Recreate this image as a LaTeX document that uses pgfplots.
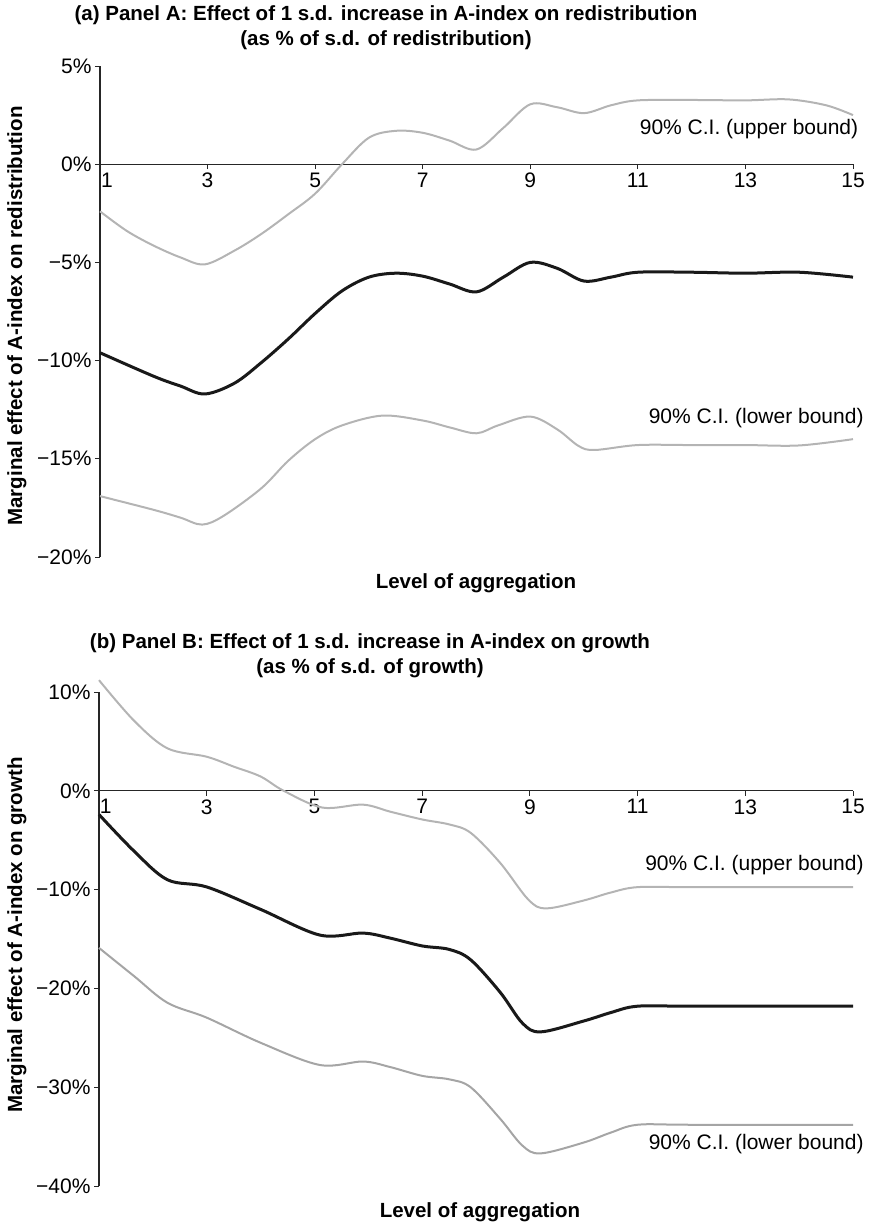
\documentclass[border=0pt]{standalone}
\usepackage{fontspec}
\setmainfont{Liberation Sans}
\usepackage{pgfplots}
\pgfplotsset{compat=1.18}
\definecolor{cigray}{RGB}{180,180,180}
\definecolor{cigrayb}{RGB}{165,165,165}
\definecolor{mainline}{RGB}{25,25,25}
\pgfplotsset{
 panel/.style={
  scale only axis, anchor=north west,
  xmin=1, xmax=15,
  axis x line*=middle, axis y line*=left,
  hide obscured x ticks=false,
  axis line style={line width=1.2pt, black!85},
  xtick={1,3,...,15}, xticklabels={\makebox[0pt][l]{\hspace{1pt}1},3,5,7,9,11,13,15},
  tick style={line width=1pt, black!85},
  major tick length=5pt,
  tick align=outside,
  tick label style={font=\fontsize{21}{21}\selectfont},
  clip=false,
 }
}
\begin{document}
\begin{tikzpicture}[x=1pt,y=1pt]
\useasboundingbox (0,0) rectangle (869,-1227);
% ---------------- Panel A ----------------
\begin{axis}[panel, at={(100pt,-66pt)}, width=753pt, height=491pt,
  ymin=-20, ymax=5, ytick={-20,-15,...,5},
  yticklabels={−20\%,−15\%,−10\%,−5\%,0\%,5\%}]
\addplot[cigray, line width=2pt, smooth, tension=0.55] coordinates {
(1,-2.4) (1.5,-3.4) (2,-4.15) (2.5,-4.75) (2.95,-5.1) (3.5,-4.4) (4,-3.55) (4.5,-2.55) (5,-1.5) (5.5,0) (6,1.35) (6.5,1.7) (7,1.6) (7.5,1.2) (8,0.75) (8.5,1.85) (9,3.05) (9.5,2.9) (10,2.6) (10.5,3.0) (11,3.25) (12,3.27) (13,3.25) (13.8,3.3) (14.5,3.0) (15,2.5)};
\addplot[mainline, line width=3pt, smooth, tension=0.55] coordinates {
(1,-9.6) (2,-10.8) (2.5,-11.3) (2.95,-11.7) (3.5,-11.15) (4,-10.1) (4.5,-8.9) (5,-7.6) (5.5,-6.45) (6,-5.75) (6.5,-5.55) (7,-5.7) (7.5,-6.1) (8,-6.5) (8.5,-5.75) (9,-5.0) (9.5,-5.3) (10,-5.95) (10.5,-5.75) (11,-5.5) (12,-5.5) (13,-5.55) (14,-5.5) (15,-5.75)};
\addplot[cigray, line width=2pt, smooth, tension=0.55] coordinates {
(1,-16.9) (2,-17.6) (2.5,-18.0) (2.9,-18.35) (3.3,-17.9) (4,-16.5) (4.5,-15.1) (5,-14.0) (5.5,-13.3) (6.25,-12.8) (7,-13.05) (7.5,-13.4) (8,-13.7) (8.4,-13.3) (9,-12.85) (9.5,-13.5) (9.9,-14.35) (10.2,-14.55) (11,-14.3) (12,-14.3) (13,-14.3) (14,-14.32) (15,-14.0)};
\node[anchor=east, inner sep=0pt, font=\fontsize{21}{21}\selectfont] at (axis cs:15.1,1.8) {90\% C.I. (upper bound)};
\node[anchor=east, inner sep=0pt, font=\fontsize{21}{21}\selectfont] at (axis cs:15.2,-12.95) {90\% C.I. (lower bound)};
\end{axis}
% ---------------- Panel B ----------------
\begin{axis}[panel, at={(99pt,-692pt)}, width=754pt, height=494pt,
  ymin=-40, ymax=10, ytick={-40,-30,...,10},
  yticklabels={−40\%,−30\%,−20\%,−10\%,0\%,10\%}]
\addplot[cigray, line width=2pt, smooth, tension=0.55] coordinates {
(1,11.2) (1.65,7.1) (2.27,4.3) (3,3.45) (3.5,2.45) (4,1.45) (4.43,0) (5.15,-1.7) (5.9,-1.4) (6.4,-2.1) (7,-2.9) (7.5,-3.4) (7.9,-4.25) (8.45,-7.3) (8.97,-11.0) (9.3,-11.9) (10,-11.1) (10.5,-10.3) (11,-9.75) (12,-9.75) (15,-9.75)};
\addplot[mainline, line width=3pt, smooth, tension=0.55] coordinates {
(1,-2.4) (1.65,-6.1) (2.27,-9.0) (3,-9.73) (4,-12.0) (5.1,-14.6) (5.9,-14.4) (6.4,-14.9) (7,-15.7) (7.5,-16.05) (7.9,-17.1) (8.45,-20.4) (8.86,-23.5) (9.2,-24.4) (10,-23.3) (10.5,-22.45) (11,-21.8) (12,-21.8) (15,-21.8)};
\addplot[cigrayb, line width=2pt, smooth, tension=0.55] coordinates {
(1,-15.9) (1.65,-18.75) (2.27,-21.45) (3,-22.96) (4,-25.5) (5.1,-27.75) (5.9,-27.4) (6.4,-27.95) (7,-28.85) (7.5,-29.2) (7.9,-30.0) (8.45,-33.2) (8.86,-35.9) (9.2,-36.7) (10,-35.6) (10.5,-34.6) (11,-33.8) (12,-33.8) (15,-33.8)};
\node[anchor=east, inner sep=0pt, font=\fontsize{21}{21}\selectfont] at (axis cs:15.2,-7.5) {90\% C.I. (upper bound)};
\node[anchor=east, inner sep=0pt, font=\fontsize{21}{21}\selectfont] at (axis cs:15.2,-35.8) {90\% C.I. (lower bound)};
\end{axis}
% ---------------- Texts ----------------
\begin{scope}[every node/.style={font=\bfseries\fontsize{20.5}{20.5}\selectfont}]
\node[anchor=base] at (386,-20) {(a) Panel A: Effect of 1 s.d. increase in A-index on redistribution};
\node[anchor=base] at (386,-45) {(as \% of s.d. of redistribution)};
\node[rotate=90, anchor=base] at (22,-316) {Marginal effect of A-index on redistribution};
\node at (476,-583) {Level of aggregation};
\node[anchor=base] at (370,-648) {(b) Panel B: Effect of 1 s.d. increase in A-index on growth};
\node[anchor=base] at (370,-673) {(as \% of s.d. of growth)};
\node[rotate=90, anchor=base] at (22,-935) {Marginal effect of A-index on growth};
\node at (480,-1212) {Level of aggregation};
\end{scope}
\end{tikzpicture}
\end{document}
